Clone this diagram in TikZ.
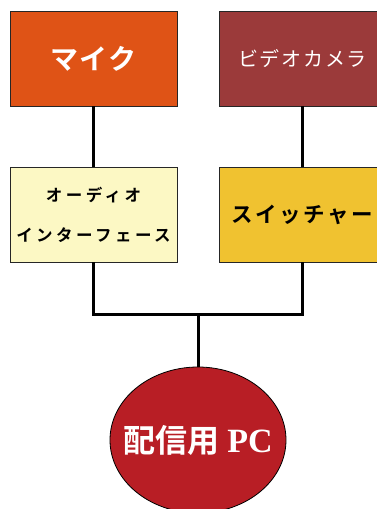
\documentclass[tikz,border=0pt]{standalone}
\usepackage{fontspec}
\usetikzlibrary{shapes.geometric}
\newfontfamily\jpfont{Noto Sans CJK JP}
\newfontfamily\jpbold{Noto Sans CJK JP Bold}
\newfontfamily\pcfont{Liberation Serif}
\definecolor{micC}{HTML}{DF5316}
\definecolor{camC}{HTML}{9B3A3A}
\definecolor{audC}{HTML}{FCF8C4}
\definecolor{swC}{HTML}{F0C230}
\definecolor{pcC}{HTML}{B81E25}
\begin{document}
\begin{tikzpicture}[x=1pt,y=-1pt,
  box/.style={draw=black!85,line width=0.8pt,rectangle,minimum width=167pt,minimum height=95pt,inner sep=0pt,align=center},
  wire/.style={line width=3pt,draw=black}]
\useasboundingbox (0,0) rectangle (377,509);
\clip (0,0) rectangle (377,509);
\node[box,fill=micC,text=white,font={\jpbold\fontsize{28}{30}\selectfont\addfontfeature{LetterSpace=6}}] (mic) at (93.5,58.5) {マイク};
\node[box,fill=camC,text=white,font={\jpfont\fontsize{20}{22}\selectfont\addfontfeature{LetterSpace=9}}] (cam) at (302.5,58.5) {ビデオカメラ};
\node[box,fill=audC,text=black,font={\jpbold\fontsize{16.5}{40}\selectfont\addfontfeature{LetterSpace=21}}] (aud) at (93.5,214.5) {オーディオ\\インターフェース};
\node[box,fill=swC,text=black,font={\jpbold\fontsize{21.5}{24}\selectfont\addfontfeature{LetterSpace=12}}] (sw) at (302.5,214.5) {スイッチャー};
\node[ellipse,draw=black,line width=0.8pt,fill=pcC,text=white,minimum width=176pt,minimum height=146pt,inner sep=0pt,font={\jpbold\fontsize{32}{33}\selectfont}] (pc) at (198,440) {\makebox[0pt]{配信用\hspace{8pt}{\pcfont\bfseries\fontsize{34}{34}\selectfont PC}}};
\coordinate (j) at (198,314);
\draw[wire] (mic) -- (aud);
\draw[wire] (cam) -- (sw);
\draw[wire] (aud.south) -- (aud.south |- j) -- (sw.south |- j) -- (sw.south);
\draw[wire] (j) -- (pc.north);
\end{tikzpicture}
\end{document}
